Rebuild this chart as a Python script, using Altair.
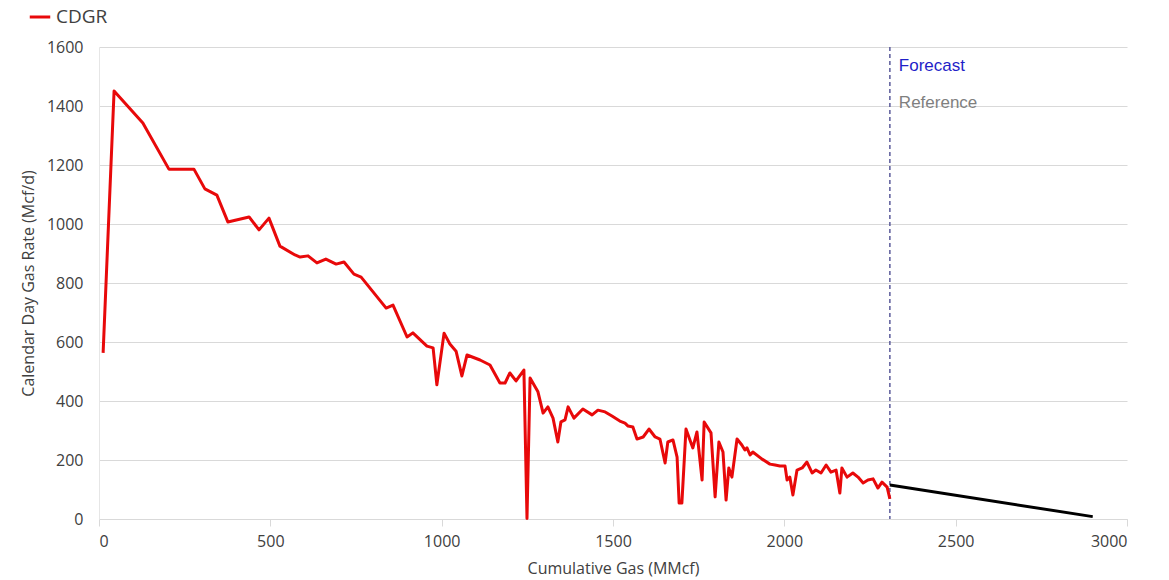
import altair as alt
import pandas as pd

# CDGR history (Cumulative gas MMcf, rate Mcf/d)
cum_gas = [12, 44, 128, 204, 277, 309, 344, 376, 438, 467, 496, 528, 572, 587, 610, 636, 662, 692,
           715, 744, 765, 838, 858, 899, 916, 957, 975, 986, 1007, 1024, 1042, 1059, 1074, 1112,
           1141, 1170, 1185, 1199, 1217, 1240, 1249, 1258, 1281, 1296, 1310, 1325, 1339, 1348,
           1360, 1369, 1386, 1412, 1439, 1456, 1477, 1497, 1520, 1535, 1544, 1558, 1570, 1588,
           1605, 1623, 1637, 1652, 1660, 1675, 1687, 1693, 1701, 1713, 1733, 1745, 1760, 1766,
           1786, 1798, 1809, 1821, 1830, 1838, 1847, 1862, 1876, 1885, 1891, 1900, 1908, 1935,
           1958, 1973, 1987, 2002, 2008, 2016, 2025, 2037, 2052, 2066, 2081, 2092, 2107, 2122,
           2136, 2151, 2162, 2168, 2183, 2200, 2215, 2230, 2244, 2259, 2273, 2285, 2300, 2308]
cdgr = [563, 1451, 1342, 1186, 1186, 1119, 1098, 1007, 1024, 980, 1020, 925, 895, 888, 892, 868, 881, 864,
        871, 830, 820, 715, 725, 617, 631, 586, 580, 455, 630, 593, 569, 485, 556, 539,
        522, 461, 461, 495, 468, 505, 2, 478, 431, 359, 380, 342, 261, 329,
        336, 380, 342, 373, 353, 369, 363, 349, 332, 325, 315, 312, 271, 278,
        305, 278, 271, 190, 261, 268, 210, 54, 54, 305, 241, 295, 132, 329,
        292, 75, 261, 227, 64, 173, 142, 271, 251, 234, 241, 217, 227, 203,
        186, 183, 180, 180, 132, 142, 81, 166, 173, 193, 156, 166, 156, 183,
        159, 166, 88, 173, 142, 156, 142, 122, 132, 136, 105, 125, 108, 68]

# Forecast segment
fc_gas = [2308, 2900]
fc_rate = [115, 8]

forecast_start = 2308
label_text = ["Forecast", "Reference"]
label_y = [1536, 1410]
label_color = ["#1f1fc8", "#7f7f7f"]

x_ticks = [0, 500, 1000, 1500, 2000, 2500, 3000]
y_ticks = [0, 200, 400, 600, 800, 1000, 1200, 1400, 1600]

hist = pd.DataFrame({"gas": cum_gas, "rate": cdgr, "series": "CDGR"})
fc = pd.DataFrame({"gas": fc_gas, "rate": fc_rate})
vline = pd.DataFrame({"gas": [forecast_start]})
labels = pd.DataFrame({"gas": [forecast_start] * 2, "rate": label_y, "text": label_text, "c": label_color})

FONT = "Open Sans"
TXT = "#404040"

xscale = alt.Scale(domain=[0, 3000], nice=False, zero=False)
yscale = alt.Scale(domain=[0, 1600], nice=False)

xaxis = alt.Axis(values=x_ticks, format="d", title="Cumulative Gas (MMcf)",
                 grid=False, domainColor="#d9d9d9", tickColor="#d9d9d9", tickSize=7,
                 labelFontSize=16, labelColor=TXT, labelPadding=7, labelFont=FONT,
                 titleFont=FONT, titleFontSize=16, titleFontWeight="normal", titleColor=TXT,
                 titlePadding=11)
yaxis = alt.Axis(values=y_ticks, format="d", title="Calendar Day Gas Rate (Mcf/d)",
                 grid=True, gridColor="#d9d9d9", gridWidth=1.2, domain=True, domainColor="#e6e6e6",
                 ticks=False, labelFontSize=16, labelColor=TXT, labelPadding=16, labelFont=FONT,
                 titleFont=FONT, titleFontSize=16, titleFontWeight="normal", titleColor=TXT,
                 titlePadding=10)

hist_line = alt.Chart(hist).mark_line(strokeWidth=3, strokeJoin="round").encode(
    x=alt.X("gas:Q", scale=xscale, axis=xaxis),
    y=alt.Y("rate:Q", scale=yscale, axis=yaxis),
    color=alt.Color("series:N", scale=alt.Scale(domain=["CDGR"], range=["#e8090a"]),
                    legend=alt.Legend(title=None, orient="none", legendX=-71, legendY=-42,
                                      symbolType="stroke", symbolStrokeWidth=3, symbolSize=420,
                                      labelFontSize=19, labelFont=FONT, labelColor=TXT,
                                      labelOffset=4, labelLimit=300)),
)

fc_line = alt.Chart(fc).mark_line(strokeWidth=3, color="#000000").encode(
    x=alt.X("gas:Q", scale=xscale), y=alt.Y("rate:Q", scale=yscale)
)

rule = alt.Chart(vline).mark_rule(strokeDash=[4, 3], strokeWidth=1.5, color="#5a5a9a").encode(
    x=alt.X("gas:Q", scale=xscale)
)

txt = alt.Chart(labels).mark_text(align="left", baseline="middle", dx=9, fontSize=17,
                                  font="Liberation Sans").encode(
    x=alt.X("gas:Q", scale=xscale), y=alt.Y("rate:Q", scale=yscale),
    text="text:N", color=alt.Color("c:N", scale=None)
)

chart = alt.layer(rule, hist_line, fc_line, txt).properties(
    width=1028, height=472,
    autosize=alt.AutoSizeParams(type="none"),
    padding={"left": 91, "top": 39, "right": 34, "bottom": 60},
).configure_view(stroke=None)

chart.save("out.html", embed_options={"renderer": "svg", "actions": False})
